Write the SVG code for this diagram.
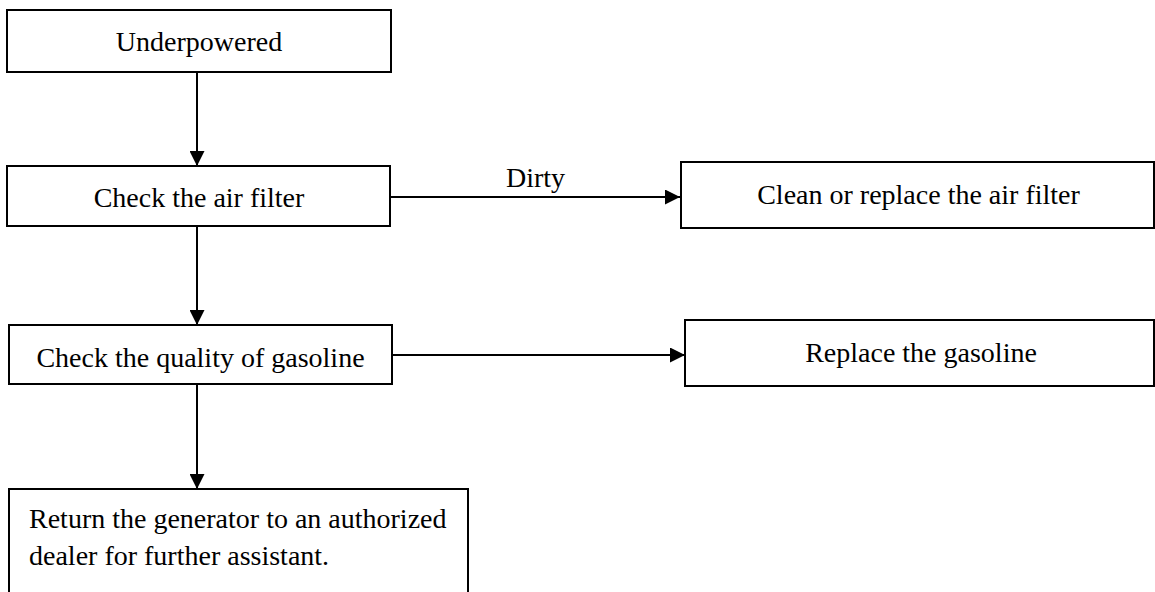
<svg xmlns="http://www.w3.org/2000/svg" width="1155" height="592" viewBox="0 0 1155 592">
  <style>
    .box { fill: #ffffff; stroke: #000000; stroke-width: 2; }
    .t { font-family: "Liberation Serif", "Times New Roman", serif; font-size: 28px; fill: #000000; }
    .c { text-anchor: middle; }
    .edge { stroke: #000000; stroke-width: 2; fill: none; marker-end: url(#arrow); }
  </style>
  <defs>
    <marker id="arrow" viewBox="0 0 15 15" refX="15" refY="7.5" markerWidth="15" markerHeight="15" markerUnits="userSpaceOnUse" orient="auto">
      <path d="M0,0 L15,7.5 L0,15 Z" fill="#000000"/>
    </marker>
  </defs>
  <rect width="1155" height="592" fill="#ffffff"/>

  <g id="connectors">
    <line class="edge" x1="197" y1="72" x2="197" y2="166"/>
    <line class="edge" x1="197" y1="226" x2="197" y2="325"/>
    <line class="edge" x1="197" y1="384" x2="197" y2="489"/>
    <line class="edge" x1="390" y1="197" x2="680" y2="197"/>
    <line class="edge" x1="392" y1="355" x2="685" y2="355"/>
    <text class="t c" x="535.5" y="187">Dirty</text>
  </g>

  <g id="n-underpowered">
    <rect class="box" x="7" y="10" width="384" height="62"/>
    <text class="t c" x="199" y="51">Underpowered</text>
  </g>
  <g id="n-check-air">
    <rect class="box" x="7" y="166" width="383" height="60"/>
    <text class="t c" x="199" y="207">Check the air filter</text>
  </g>
  <g id="n-check-gas">
    <rect class="box" x="9" y="325" width="383" height="59"/>
    <text class="t c" x="200.5" y="367">Check the quality of gasoline</text>
  </g>
  <g id="n-return">
    <rect class="box" x="9" y="489" width="459" height="120"/>
    <text class="t" x="29" y="528">Return the generator to an authorized</text>
    <text class="t" x="29" y="565">dealer for further assistant.</text>
  </g>
  <g id="n-clean-air">
    <rect class="box" x="681" y="162" width="473" height="66"/>
    <text class="t c" x="918.5" y="204">Clean or replace the air filter</text>
  </g>
  <g id="n-replace-gas">
    <rect class="box" x="685" y="320" width="469" height="66"/>
    <text class="t c" x="921" y="362">Replace the gasoline</text>
  </g>
</svg>
